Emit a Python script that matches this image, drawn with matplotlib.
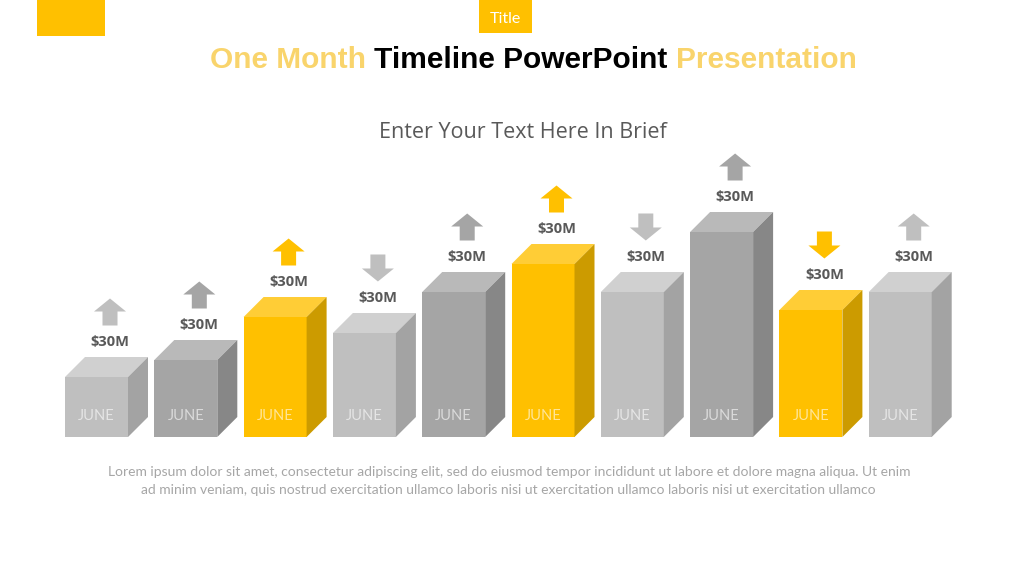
import matplotlib
matplotlib.use("Agg")
import matplotlib.pyplot as plt
from matplotlib.patches import Polygon, Rectangle

# data
months = ["JUNE"] * 10
values = [60, 77, 120, 104, 145, 173, 145, 205, 127, 145]
amounts = ["$30M"] * 10
trend = ["up", "up", "up", "down", "up", "up", "down", "up", "down", "up"]
tone = ["light", "dark", "yellow", "light", "dark", "yellow", "light", "dark", "yellow", "light"]

title_parts = [("One Month ", "#f9d46c"), ("Timeline PowerPoint ", "#000000"), ("Presentation", "#f9d46c")]
subtitle = "Enter Your Text Here In Brief"
body = ["Lorem ipsum dolor sit amet, consectetur adipiscing elit, sed do eiusmod tempor incididunt ut labore et dolore magna aliqua. Ut enim",
        "ad minim veniam, quis nostrud exercitation ullamco laboris nisi ut exercitation ullamco laboris nisi ut exercitation ullamco"]

palette = {
    "light": ("#bfbfbf", "#d0d0d0", "#a3a3a3"),
    "dark": ("#a5a5a5", "#b9b9b9", "#878787"),
    "yellow": ("#ffc000", "#ffcd36", "#cc9b00"),
}

fig = plt.figure(figsize=(10.24, 5.76), dpi=100)
ax = fig.add_axes([0, 0, 1, 1])
ax.set_xlim(0, 1024)
ax.set_ylim(0, 576)
ax.axis("off")
renderer = fig.canvas.get_renderer()


def fit_text(x, y, s, width, **kw):
    t = ax.text(x, y, s, fontsize=10, **kw)
    w = t.get_window_extent(renderer).width
    t.set_fontsize(10 * width / w)
    return t


# header blocks
ax.add_patch(Rectangle((37, 540), 68, 36, color="#ffc000", lw=0))
ax.add_patch(Rectangle((479, 543), 53, 33, color="#ffc000", lw=0))
ax.text(505.5, 557, "Title", ha="center", va="center", color="white", fontsize=11.5, family="Lato")

# multicolour title
full = "".join(p[0] for p in title_parts)
probe = fit_text(0, 0, full, 646, family="Liberation Sans", weight="bold")
fs = probe.get_fontsize()
probe.remove()
x = 210
for s, c in title_parts:
    t = ax.text(x, 516, s, fontsize=fs, family="Liberation Sans", weight="bold", color=c, va="center", ha="left")
    x += t.get_window_extent(renderer).width

fit_text(523, 444, subtitle, 287, family="Open Sans", color="#595959", ha="center", va="center")

fit_text(509, 104, body[0], 806, family="Lato", color="#a6a6a6", ha="center", va="center")
fit_text(508, 85.5, body[1], 736, family="Lato", color="#a6a6a6", ha="center", va="center")

# 3d bars
base = 139
x0, step, w = 65, 89.3, 63
dx, dy = 20, 20
lefts = [x0 + i * step for i in range(len(values))]
fronts = [palette[t][0] for t in tone]
ax.bar(lefts, values, width=w, bottom=base, align="edge", color=fronts, lw=0, zorder=2)

for i, v in enumerate(values):
    front, top, side = palette[tone[i]]
    l = lefts[i]
    h = base + v
    ax.add_patch(Polygon([(l, h), (l + w, h), (l + w + dx, h + dy), (l + dx, h + dy)], closed=True, color=top, lw=0, zorder=2))
    ax.add_patch(Polygon([(l + w, base), (l + w + dx, base + dy), (l + w + dx, h + dy), (l + w, h)], closed=True, color=side, lw=0, zorder=2))
    ax.text(l + w / 2, base + 21, months[i], ha="center", va="center", color="white", alpha=0.6,
            fontsize=10.5, family="Lato", zorder=3)

    cx = l + 45
    ly = h + dy + 15
    ax.text(cx, ly, amounts[i], ha="center", va="center", color="#595959", fontsize=10.5,
            family="Open Sans", weight="bold", zorder=3)

    # arrow
    ay = ly + 30
    hw, sw, hl = 16, 7.5, 13
    top_y, bot_y = ay + 13.5, ay - 13.5
    if trend[i] == "up":
        pts = [(cx, top_y), (cx + hw, top_y - hl), (cx + sw, top_y - hl), (cx + sw, bot_y),
               (cx - sw, bot_y), (cx - sw, top_y - hl), (cx - hw, top_y - hl)]
    else:
        pts = [(cx, bot_y), (cx + hw, bot_y + hl), (cx + sw, bot_y + hl), (cx + sw, top_y),
               (cx - sw, top_y), (cx - sw, bot_y + hl), (cx - hw, bot_y + hl)]
    ax.add_patch(Polygon(pts, closed=True, color=front, lw=0, zorder=2))

fig.savefig("out.png", dpi=100)
